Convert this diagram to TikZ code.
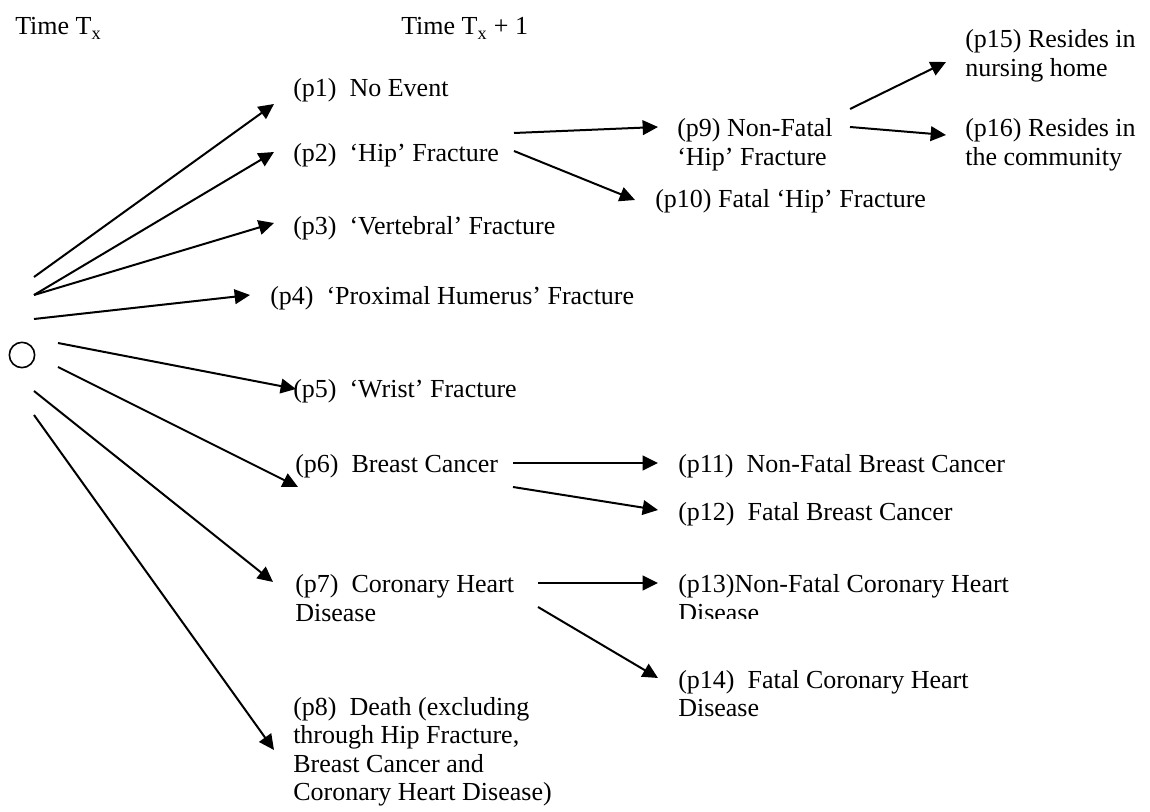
\documentclass[tikz,border=0pt]{standalone}
\usepackage{fontspec}
\setmainfont{Liberation Serif}
\usetikzlibrary{arrows.meta}
\newcommand{\twosp}{\ \ }
\begin{document}
\begin{tikzpicture}[x=0.75pt,y=-0.75pt,
  every node/.style={font=\fontsize{19.5}{21.5}\selectfont, inner sep=0pt, anchor=base west},
  arr/.style={line width=1.5pt, -{Triangle[length=11.5pt,width=11pt]}}]
\useasboundingbox (0,0) rectangle (1150,812);
% headings
\node (h1) at (15,35) {Time T\textsubscript{x}};
\node (h2) at (401,35) {Time T\textsubscript{x} + 1};
% root circle
\node[draw, circle, line width=1.2pt, minimum size=19pt, anchor=center] (o) at (22,355) {};
\coordinate (c1) at ([shift={(12,-78)}]o.center);
\coordinate (c2) at ([shift={(12,-60)}]o.center);
\coordinate (c4) at ([shift={(12,-36)}]o.center);
\coordinate (c5) at ([shift={(36,-12)}]o.center);
\coordinate (c6) at ([shift={(36,12)}]o.center);
\coordinate (c7) at ([shift={(12,36)}]o.center);
\coordinate (c8) at ([shift={(12,60)}]o.center);
% first level
\node (p1) at (293,97) {(p1)\twosp No Event};
\node (p2) at (293,162) {(p2)\twosp ‘Hip’ Fracture};
\node (p3) at (293,235) {(p3)\twosp ‘Vertebral’ Fracture};
\node (p4) at (270,305) {(p4)\twosp ‘Proximal Humerus’ Fracture};
\node (p5) at (293,398) {(p5)\twosp ‘Wrist’ Fracture};
\node (p6) at (295,473) {(p6)\twosp Breast Cancer};
\node (p7) at (295,593) {\begin{tabular}[t]{@{}l@{}}(p7)\twosp Coronary Heart\\Disease\end{tabular}};
\node (p8) at (293,715) {\begin{tabular}[t]{@{}l@{}}(p8)\twosp Death (excluding\\through Hip Fracture,\\Breast Cancer and\\Coronary Heart Disease)\end{tabular}};
% second level
\node (p9) at (677,137) {\begin{tabular}[t]{@{}l@{}}(p9) Non-Fatal\\‘Hip’ Fracture\end{tabular}};
\node (p10) at (655,208) {(p10) Fatal ‘Hip’ Fracture};
\node (p11) at (678,473) {(p11)\twosp Non-Fatal Breast Cancer};
\node (p12) at (678,521) {(p12)\twosp Fatal Breast Cancer};
\begin{scope}
  \clip (0,0) rectangle (1150,619);
  \node (p13) at (678,593) {\begin{tabular}[t]{@{}l@{}}(p13)Non-Fatal Coronary Heart\\Disease\end{tabular}};
\end{scope}
\node (p14) at (678,688) {\begin{tabular}[t]{@{}l@{}}(p14)\twosp Fatal Coronary Heart\\Disease\end{tabular}};
% third level
\node (p15) at (965,48) {\begin{tabular}[t]{@{}l@{}}(p15) Resides in\\nursing home\end{tabular}};
\node (p16) at (965,137) {\begin{tabular}[t]{@{}l@{}}(p16) Resides in\\the community\end{tabular}};
% connectors from root
\draw[arr] (c1) -- ([shift={(-19,7)}]p1.base west);
\draw[arr] (c2) -- ([shift={(-19,-10)}]p2.base west);
\draw[arr] (c2) -- ([shift={(-19,-12)}]p3.base west);
\draw[arr] (c4) -- ([shift={(-20,-10)}]p4.base west);
\draw[arr] (c5) -- ([shift={(3,-9)}]p5.base west);
\draw[arr] (c6) -- ([shift={(3,14)}]p6.base west);
\draw[arr] (c7) -- ([shift={(-22,-11)}]p7.base west);
\draw[arr] (c8) -- ([shift={(-19,35)}]p8.base west);
% second-level connectors
\draw[arr] ([shift={(221,-29)}]p2.base west) -- ([shift={(-19,-10)}]p9.base west);
\draw[arr] ([shift={(221,-11)}]p2.base west) -- ([shift={(-20,-8)}]p10.base west);
\draw[arr] ([shift={(173,-28)}]p9.base west) -- ([shift={(-19,14)}]p15.base west);
\draw[arr] ([shift={(173,-10)}]p9.base west) -- ([shift={(-19,-2)}]p16.base west);
\draw[arr] ([shift={(218,-10)}]p6.base west) -- ([shift={(-20,-10)}]p11.base west);
\draw[arr] ([shift={(218,14)}]p6.base west) -- ([shift={(-20,-11)}]p12.base west);
\draw[arr] ([shift={(243,-10)}]p7.base west) -- ([shift={(-20,-10)}]p13.base west);
\draw[arr] ([shift={(243,14)}]p7.base west) -- ([shift={(-20,-10)}]p14.base west);
\end{tikzpicture}
\end{document}
